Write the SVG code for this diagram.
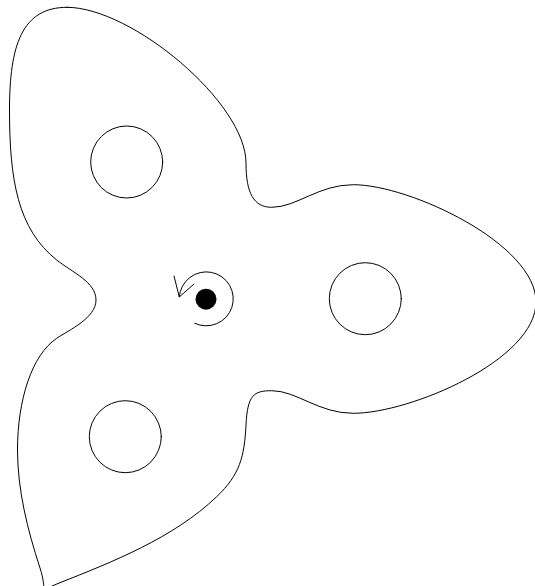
<svg xmlns="http://www.w3.org/2000/svg" width="535" height="586" viewBox="0 0 535 586">
  <style>
    .line { fill: none; stroke: #000; stroke-width: 1; stroke-linejoin: round; stroke-linecap: round; }
  </style>
  <rect x="0" y="0" width="535" height="586" fill="#fff"/>
  <g id="spinner-body">
    <path class="line" d="M 67,7.3
      C 132,7.3 246,103 246,163
      C 246,193 253.7,207.3 271.7,207.3
      C 296.7,207.3 318.3,184.7 353.3,184.7
      C 410,184.7 536,244 536,302
      C 536,360 410,413.3 353.3,413.3
      C 318.3,413.3 296.7,390.7 271.7,390.7
      C 253.7,390.7 247.5,395 246,425
      C 244.4,457 239.7,474.7 216.7,496.7
      C 173.5,538.1 111.2,562.4 60,582.7
      C 37,592 48,592 40,568
      C 27.6,530 17.5,490 17.5,450
      C 17.5,400 31.8,355.1 56.7,338.3
      C 69.2,329.9 96,318 96,300
      C 96,282 72.3,272.4 56.7,260
      C 17.7,229 9.5,180 9.5,110
      C 9.5,45 22,7.3 67,7.3 Z"/>
  </g>
  <g id="hole-top">
    <circle class="line" cx="126.7" cy="162" r="36"/>
  </g>
  <g id="hole-right">
    <circle class="line" cx="365.3" cy="298.7" r="36"/>
  </g>
  <g id="hole-bottom">
    <circle class="line" cx="125.3" cy="436.7" r="36"/>
  </g>
  <g id="pivot">
    <circle cx="206" cy="299.2" r="10.5" fill="#000"/>
  </g>
  <g id="rotation-arrow">
    <path class="line" d="M 194.7,323.3 A 27 27 0 1 0 179.3,296.7"/>
    <path class="line" d="M 174,276 L 179.3,297 L 194,284"/>
  </g>
</svg>
